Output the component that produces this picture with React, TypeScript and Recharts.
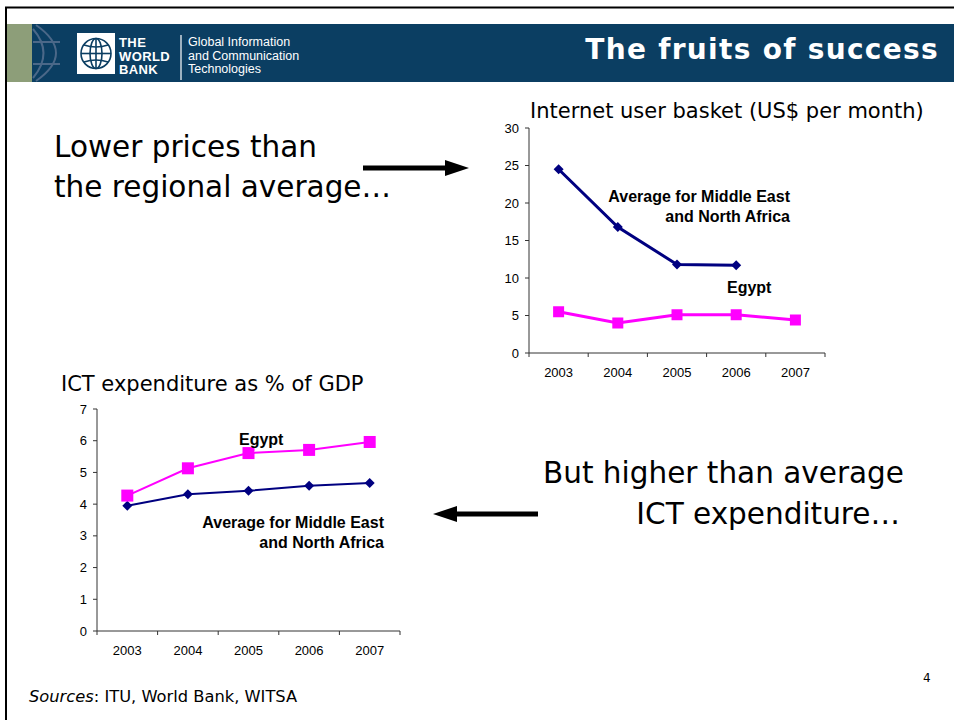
import { LineChart, Line, XAxis, YAxis } from 'recharts';

const years = ['2003', '2004', '2005', '2006', '2007'];
const basketMena: (number | null)[] = [24.5, 16.8, 11.8, 11.7, null];
const basketEgypt = [5.5, 4.0, 5.1, 5.1, 4.4];
const basketTicks = [0, 5, 10, 15, 20, 25, 30];
const ictMena = [3.95, 4.31, 4.42, 4.58, 4.67];
const ictEgypt = [4.27, 5.13, 5.61, 5.71, 5.96];
const ictTicks = [0, 1, 2, 3, 4, 5, 6, 7];

const basketData = years.map((year, i) => ({ year, mena: basketMena[i], egypt: basketEgypt[i] }));
const ictData = years.map((year, i) => ({ year, mena: ictMena[i], egypt: ictEgypt[i] }));

const NAVY = '#000080';
const MAGENTA = '#ff00ff';
const HEADER = '#0b3e62';
const AXIS = '#333';
const FRAME = '#a6a6a6';
const BODY_FONT = '"DejaVu Sans", Verdana, sans-serif';
const CHART_FONT = '"Liberation Sans", Arial, sans-serif';

const diamond = (size: number) => (props: any) => {
  const { cx, cy, index } = props;
  if (cx == null || cy == null) return <g key={`d${index}`} />;
  return (
    <polygon
      key={`d${index}`}
      points={`${cx},${cy - size} ${cx + size},${cy} ${cx},${cy + size} ${cx - size},${cy}`}
      fill={NAVY}
    />
  );
};

const square = (size: number) => (props: any) => {
  const { cx, cy, index } = props;
  if (cx == null || cy == null) return <g key={`s${index}`} />;
  return <rect key={`s${index}`} x={cx - size / 2} y={cy - size / 2} width={size} height={size} fill={MAGENTA} />;
};

// labels sit in the middle of each year, tick marks on the boundaries (Excel style)
const yearTick = (bw: number) => (props: any) => {
  const { x, y, payload, index } = props;
  return (
    <g>
      <line x1={x - bw / 2} x2={x - bw / 2} y1={y} y2={y + 4} stroke={AXIS} />
      {index === years.length - 1 && <line x1={x + bw / 2} x2={x + bw / 2} y1={y} y2={y + 4} stroke={AXIS} />}
      <text x={x} y={y + 24} textAnchor="middle" fontSize={13} fontFamily={CHART_FONT} fill="#000">
        {payload.value}
      </text>
    </g>
  );
};

interface PanelProps {
  data: { year: string; mena: number | null; egypt: number }[];
  width: number;
  height: number;
  yWidth: number;
  xHeight: number;
  max: number;
  ticks: number[];
  lineWidth: number;
  squareSize: number;
}

const Panel = ({ data, width, height, yWidth, xHeight, max, ticks, lineWidth, squareSize }: PanelProps) => {
  const margin = { top: 10, right: 25, left: 0, bottom: 5 };
  const bw = (width - yWidth - margin.right) / years.length;
  return (
    <LineChart width={width} height={height} data={data} margin={margin}>
      <XAxis xAxisId="top" orientation="top" dataKey="year" height={0} tick={false} tickLine={false} axisLine={{ stroke: FRAME }} />
      <YAxis yAxisId="right" orientation="right" width={0} domain={[0, max]} tick={false} tickLine={false} axisLine={{ stroke: FRAME }} />
      <XAxis
        dataKey="year"
        height={xHeight}
        padding={{ left: bw / 2, right: bw / 2 }}
        tickSize={0}
        tickMargin={0}
        tickLine={false}
        axisLine={{ stroke: AXIS }}
        tick={yearTick(bw)}
        interval={0}
      />
      <YAxis
        width={yWidth}
        domain={[0, max]}
        ticks={ticks}
        interval={0}
        tickSize={4}
        tickMargin={6}
        tickLine={{ stroke: AXIS }}
        axisLine={{ stroke: AXIS }}
        tick={{ fontSize: 13, fontFamily: CHART_FONT, fill: '#000' }}
      />
      <Line dataKey="mena" stroke={NAVY} strokeWidth={lineWidth} dot={diamond(5)} isAnimationActive={false} />
      <Line dataKey="egypt" stroke={MAGENTA} strokeWidth={lineWidth} dot={square(squareSize)} isAnimationActive={false} />
    </LineChart>
  );
};

const Header = () => (
  <g>
    <rect x={7} y={24} width={947} height={58} fill={HEADER} />
    <rect x={7} y={24} width={25} height={58} fill="#8d9e79" />
    <g stroke="#4b6888" strokeWidth={2} fill="none">
      <path d="M 36 25 Q 76 53 36 81" />
      <path d="M 33 29 Q 54 53 33 78" />
      <line x1={33} y1={42} x2={60} y2={42} />
      <line x1={33} y1={64} x2={60} y2={64} />
    </g>
    <rect x={77} y={33} width={38} height={41} fill="#fff" />
    <g stroke={HEADER} strokeWidth={1.6} fill="none">
      <circle cx={96} cy={53.5} r={15} />
      <ellipse cx={96} cy={53.5} rx={6} ry={15} />
      <line x1={96} y1={38.5} x2={96} y2={68.5} />
      <line x1={81} y1={53.5} x2={111} y2={53.5} />
      <path d="M 84 45 Q 96 49 108 45" />
      <path d="M 84 62 Q 96 58 108 62" />
    </g>
    <g fill="#fff" fontFamily={CHART_FONT} fontWeight="bold" fontSize={13} letterSpacing={0.4}>
      <text x={119} y={46.5}>THE</text>
      <text x={119} y={60.5}>WORLD</text>
      <text x={119} y={74}>BANK</text>
    </g>
    <line x1={181} y1={35} x2={181} y2={80} stroke="#fff" strokeWidth={1.2} />
    <g fill="#fff" fontFamily={CHART_FONT} fontSize={12.5}>
      <text x={188} y={45.5}>Global Information</text>
      <text x={188} y={59.5}>and Communication</text>
      <text x={188} y={73}>Technologies</text>
    </g>
    <text x={939} y={59} textAnchor="end" fill="#fff" fontFamily={BODY_FONT} fontWeight="bold" fontSize={28} letterSpacing={1.3}>
      The fruits of success
    </text>
  </g>
);

const App = () => (
  <div style={{ position: 'absolute', left: 0, top: 0, width: 954, height: 720, background: '#fff', overflow: 'hidden' }}>
    <svg width={954} height={720} style={{ position: 'absolute', left: 0, top: 0 }}>
      <line x1={5} y1={7.5} x2={954} y2={7.5} stroke="#000" strokeWidth={2} />
      <line x1={6} y1={7} x2={6} y2={720} stroke="#000" strokeWidth={2} />
      <Header />

      <g fontFamily={BODY_FONT} fontSize={29.5} fill="#000">
        <text x={54} y={157}>Lower prices than</text>
        <text x={54} y={197}>the regional average…</text>
        <text x={904} y={483} textAnchor="end">But higher than average</text>
        <text x={900} y={524} textAnchor="end">ICT expenditure…</text>
      </g>

      <line x1={363} y1={168} x2={448} y2={168} stroke="#000" strokeWidth={5} />
      <polygon points="445,160 469,168 445,176" fill="#000" />
      <line x1={455} y1={514} x2={538} y2={514} stroke="#000" strokeWidth={5} />
      <polygon points="457,506 433,514 457,522" fill="#000" />

      <g fontFamily={BODY_FONT} fontSize={21} fill="#000">
        <text x={530} y={118}>Internet user basket (US$ per month)</text>
        <text x={61} y={390.5}>ICT expenditure as % of GDP</text>
      </g>

      <text x={29} y={702} fontFamily={BODY_FONT} fontSize={16.3} fill="#000">
        <tspan fontStyle="italic">Sources</tspan>: ITU, World Bank, WITSA
      </text>
      <text x={923} y={682} fontFamily={BODY_FONT} fontSize={12} fill="#000">4</text>
    </svg>

    <div style={{ position: 'absolute', left: 490, top: 118 }}>
      <Panel data={basketData} width={360} height={270} yWidth={39} xHeight={30} max={30} ticks={basketTicks} lineWidth={3} squareSize={11} />
    </div>
    <div style={{ position: 'absolute', left: 55, top: 399 }}>
      <Panel data={ictData} width={370} height={264} yWidth={42} xHeight={27} max={7} ticks={ictTicks} lineWidth={2} squareSize={12} />
    </div>

    <svg width={954} height={720} style={{ position: 'absolute', left: 0, top: 0, pointerEvents: 'none' }}>
      <g fontFamily={CHART_FONT} fontWeight="bold" fontSize={16} fill="#000">
        <text x={790} y={201.5} textAnchor="end">Average for Middle East</text>
        <text x={790} y={221.5} textAnchor="end">and North Africa</text>
        <text x={727} y={293}>Egypt</text>
        <text x={239} y={445}>Egypt</text>
        <text x={384} y={527.5} textAnchor="end">Average for Middle East</text>
        <text x={384} y={547.5} textAnchor="end">and North Africa</text>
      </g>
    </svg>
  </div>
);

export default App;
